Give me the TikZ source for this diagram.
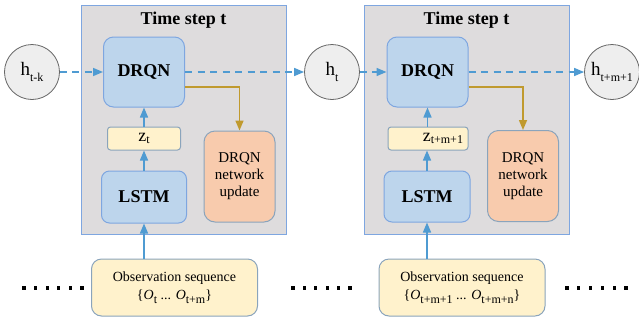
\documentclass[tikz,border=0pt]{standalone}
\usepackage{fontspec}
\setmainfont{Liberation Serif}
\usetikzlibrary{arrows.meta}
\definecolor{panelgray}{HTML}{DEDCDD}
\definecolor{panelblue}{HTML}{7EA6E0}
\definecolor{netblue}{HTML}{BDD5EC}
\definecolor{notefill}{HTML}{FFF2CC}
\definecolor{noteline}{HTML}{8AA4BC}
\definecolor{updfill}{HTML}{F8CBAD}
\definecolor{flowblue}{HTML}{4F9BD2}
\definecolor{flowgold}{HTML}{C09A2E}
\definecolor{statefill}{HTML}{EEEEEE}
\newcommand{\lowsub}[2][2pt]{\raisebox{-#1}{\fontsize{12}{12}\selectfont #2}}
\tikzset{
	panel/.style={draw=panelblue, fill=panelgray, line width=1pt},
	title/.style={font=\fontsize{18}{18}\selectfont\bfseries},
	netbox/.style={draw=panelblue, fill=netblue, line width=1pt, rounded corners=10pt, font=\fontsize{18}{18}\selectfont\bfseries},
	latent/.style={draw=noteline, fill=notefill, line width=1pt, rounded corners=3pt, minimum height=23pt, font=\fontsize{18}{18}\selectfont},
	update/.style={draw=noteline, fill=updfill, line width=1pt, rounded corners=11pt, minimum width=71pt, minimum height=91pt, align=center, font=\fontsize{15}{17}\selectfont},
	obsbox/.style={draw=noteline, fill=notefill, line width=1pt, rounded corners=10pt, minimum width=166pt, minimum height=57pt, align=center, font=\fontsize{14}{18}\selectfont},
	state/.style={circle, draw=gray!80!black, fill=statefill, line width=0.8pt, minimum size=55pt, inner sep=0pt, font=\fontsize{19}{19}\selectfont},
	flow/.style={draw=flowblue, line width=1.5pt, -{Triangle[length=10pt,width=8pt]}},
	dashflow/.style={flow, dash pattern=on 7pt off 5.5pt},
	updflow/.style={draw=flowgold, line width=1.5pt, -{Triangle[length=10pt,width=8pt]}}
}
\begin{document}
\begin{tikzpicture}[x=1pt,y=-1pt]
		\useasboundingbox (0,0) rectangle (639,322);

		\draw[panel] (81,5) rectangle (286,234);
		\draw[panel] (364,5) rectangle (569,234);
		\node[title] (title1) at (183.5,20) {Time step t};
		\node[title] (title2) at (466.5,20) {Time step t};

		\node[netbox, minimum width=81pt, minimum height=70pt] (drqn1) at (144,72) {DRQN};
		\node[latent, minimum width=73pt] (z1) at (144,138.5) {z\lowsub[1.5pt]{t}};
		\node[netbox, minimum width=85pt, minimum height=52pt, rounded corners=8pt] (lstm1) at (144,197) {LSTM};
		\node[update] (upd1) at (239.5,176.5) {DRQN\\network\\update};
		\node[obsbox] (obs1) at (174.5,287.5) {Observation sequence\\\{\textit{O}\lowsub[3.5pt]{t} ... \textit{O}\lowsub[3.5pt]{t+m}\}};

		\node[netbox, minimum width=81pt, minimum height=70pt] (drqn2) at (427.5,72) {DRQN};
		\node[latent, minimum width=80pt, text width=70pt, align=right] (z2) at (428,138.5) {z\lowsub[1.5pt]{t+m+1}};
		\node[netbox, minimum width=86pt, minimum height=51pt, rounded corners=8pt] (lstm2) at (427,196.5) {LSTM};
		\node[update] (upd2) at (523,176) {DRQN\\network\\update};
		\node[obsbox] (obs2) at (462,287.5) {Observation sequence\\\{\textit{O}\lowsub[3.5pt]{t+m+1} ... \textit{O}\lowsub[3.5pt]{t+m+n}\}};

		\node[state] (h1) at (32,72) {h\lowsub[5.5pt]{t-k}};
		\node[state] (h2) at (332,72) {h\lowsub[5.5pt]{t}};
		\node[state] (h3) at (612,72) {h\lowsub[5.5pt]{t+m+1}};

		\draw[dashflow] (h1) -- (drqn1);
		\draw[dashflow] (drqn1) -- (h2);
		\draw[dashflow] (h2) -- (drqn2);
		\draw[dashflow] (drqn2) -- (h3);

		\draw[flow] (obs1.north -| lstm1) -- (lstm1);
		\draw[flow] (lstm1) -- (z1);
		\draw[flow] (z1) -- (drqn1);
		\draw[flow] (obs2.north -| lstm2) -- (lstm2);
		\draw[flow] (lstm2) -- (z2.south -| lstm2);
		\draw[flow] (z2.north -| drqn2) -- (drqn2);

		\draw[updflow] ([yshift=-15pt]drqn1.east) -| (upd1.north);
		\draw[updflow] ([yshift=-15pt]drqn2.east) -| (upd2.north);

		\foreach \x in {24,35.6,...,83} \fill (\x-1.6,286.4) rectangle ++(3.2,3.2);
		\foreach \x in {293,304.4,...,351} \fill (\x-1.6,286.4) rectangle ++(3.2,3.2);
		\foreach \x in {567,578.8,...,627} \fill (\x-1.6,286.4) rectangle ++(3.2,3.2);
\end{tikzpicture}
\end{document}
